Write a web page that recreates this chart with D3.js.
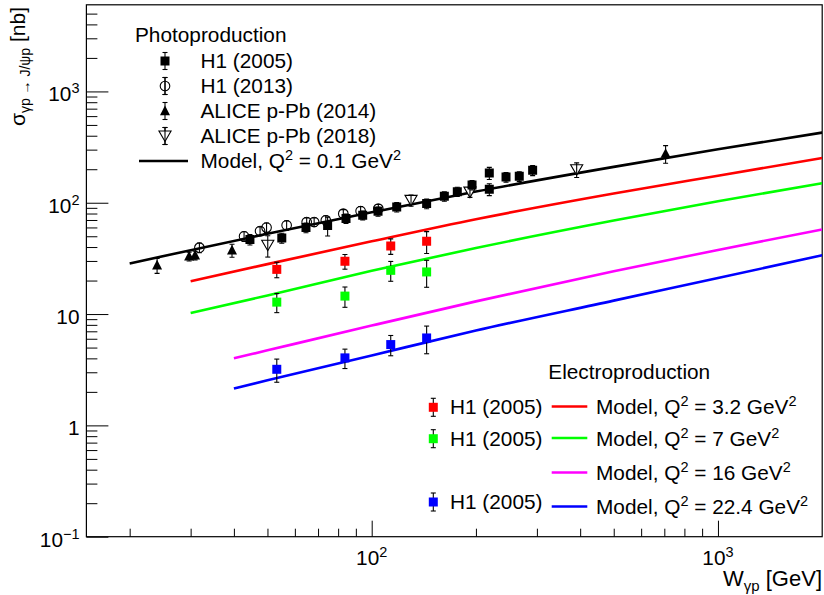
<!DOCTYPE html>
<html><head><meta charset="utf-8">
<script src="https://cdn.jsdelivr.net/npm/d3@7"></script>
<style>
html,body{margin:0;padding:0;background:#fff;}
svg{display:block;font-family:"Liberation Sans",Arial,Helvetica,sans-serif;}
</style></head><body>
<svg id="chart" width="824" height="595"></svg>
<script>
// ---------- axis ticks ----------
const xMajor = [100, 1000];
const xMajorLabels = [["10", "2"], ["10", "3"]];
const yMajor = [0.1, 1, 10, 100, 1000];
const yMajorLabels = [["10", "\u22121"], ["1", ""], ["10", ""], ["10", "2"], ["10", "3"]];

// ---------- photoproduction data ----------
const h1p05W   = [44.5, 55.0, 64.6, 74.6, 84.3, 94.2, 104.3, 118.1, 144.1, 162.1, 176.7, 194.9, 218.6, 218.6, 244.3, 266.8, 291.6];
const h1p05Sig = [46.7, 48.2, 59.8, 62.3, 72.0, 77.1, 83.7, 91.5, 98.2, 114.1, 125.8, 144.1, 184.7, 131.9, 170.1, 172.6, 195.4];
const h1p05Err = [5, 5, 6, 12, 7, 7, 8, 9, 10, 11, 12, 14, 23, 16, 17, 17, 20];

const h1p13W   = [31.8, 42.8, 47.6, 49.7, 56.8, 64.9, 68.2, 73.7, 82.8, 92.9, 104.5];
const h1p13Sig = [39.5, 49.9, 55.7, 59.8, 62.7, 67.1, 67.1, 69.5, 79.8, 84.2, 88.5];
const h1p13Err = [4, 5, 5, 6, 6, 6, 6, 7, 7, 8, 8];

const alice14W   = [24.0, 29.7, 30.9, 39.5, 706];
const alice14Sig = [27.4, 33.0, 33.7, 37.4, 276];
const alice14Err = [4.2, 3, 3, 5, 50];

const alice18W   = [50.1, 129.9, 192.2, 390.8];
const alice18Sig = [41.5, 105.1, 124.7, 198.3];
const alice18Err = [9, 12, 13, 30];

// ---------- electroproduction data (H1 2005) ----------
const h1eW = [53.2, 83.7, 113.5, 144.1];
const h1eSig32 = [25.2, 29.8, 40.9, 45.0];
const h1eErr32 = [4, 4.5, 6.5, 10];
const h1eSig7 = [12.8, 14.5, 24.7, 23.9];
const h1eErr7 = [2.5, 3, 5, 6.5];
const h1eSig224 = [3.19, 4.04, 5.32, 6.10];
const h1eErr224 = [0.75, 0.8, 1.1, 1.7];

// ---------- model curves ----------
const modelW01   = [20, 30, 50, 100, 200, 500, 1000, 2000];
const modelSig01 = [28.5, 37.5, 52.6, 82, 126, 210, 302, 427];
const modelW32   = [30, 50, 100, 200, 500, 1000, 2000];
const modelSig32 = [19.7, 28.1, 45, 71.1, 121, 175, 252];
const modelW7    = [30, 50, 100, 200, 500, 1000, 2000];
const modelSig7  = [10.2, 14.7, 24.5, 39.2, 69.2, 103, 150];
const modelW16   = [40, 50, 100, 200, 500, 1000, 2000];
const modelSig16 = [4.0, 4.72, 7.88, 13.0, 24.2, 37.7, 57.5];
const modelW224  = [40, 50, 100, 200, 500, 1000, 2000];
const modelSig224= [2.14, 2.54, 4.25, 7.11, 13.2, 21.1, 33.7];

// ---------- layout ----------
const L = 86.4, R = 822.2, T = 4.8, B = 536.7;
const FONT = 20.8, SUP = 14.5;

const svg = d3.select("#chart");
const x = d3.scaleLog().domain([15, 2000]).range([L, R]);
const y = d3.scaleLog().domain([0.1, 6000]).range([B, T]);

// minor tick positions: 2..9 times each decade inside the domain
function minors(scale) {
  const [a, b] = scale.domain();
  const out = [];
  for (let e = Math.floor(Math.log10(a)); e <= Math.ceil(Math.log10(b)); e++) {
    for (let k = 2; k <= 9; k++) {
      const v = k * Math.pow(10, e);
      if (v > a && v < b) out.push(v);
    }
  }
  return out;
}

const axes = svg.append("g");
// x axis ticks (inside the frame)
axes.append("g").attr("transform", `translate(0,${B})`)
  .call(d3.axisBottom(x).tickValues(minors(x)).tickSize(-8).tickFormat(() => ""))
  .call(g => g.select(".domain").remove());
axes.append("g").attr("transform", `translate(0,${B})`)
  .call(d3.axisBottom(x).tickValues(xMajor).tickSize(-16).tickFormat(() => ""))
  .call(g => g.select(".domain").remove());
// y axis ticks
axes.append("g").attr("transform", `translate(${L},0)`)
  .call(d3.axisLeft(y).tickValues(minors(y)).tickSize(-11).tickFormat(() => ""))
  .call(g => g.select(".domain").remove());
axes.append("g").attr("transform", `translate(${L},0)`)
  .call(d3.axisLeft(y).tickValues(yMajor).tickSize(-22).tickFormat(() => ""))
  .call(g => g.select(".domain").remove());
axes.selectAll(".tick line").attr("stroke", "#000").attr("stroke-width", 1);

// frame
svg.append("rect").attr("x", L).attr("y", T).attr("width", R - L).attr("height", B - T)
  .attr("fill", "none").attr("stroke", "#000").attr("stroke-width", 1.2);

// tick labels with superscript exponents
function powLabel(g, base, exp) {
  g.append("tspan").text(base);
  if (exp) g.append("tspan").attr("font-size", SUP).attr("dy", -8).text(exp);
}
xMajor.forEach((v, i) => {
  const t = svg.append("text").attr("x", x(v)).attr("y", B + 28)
    .attr("text-anchor", "middle").attr("font-size", FONT);
  powLabel(t, xMajorLabels[i][0], xMajorLabels[i][1]);
});
yMajor.forEach((v, i) => {
  const t = svg.append("text").attr("x", 79.5).attr("y", y(v) + 10)
    .attr("text-anchor", "end").attr("font-size", FONT);
  powLabel(t, yMajorLabels[i][0], yMajorLabels[i][1]);
});

// axis titles
const xt = svg.append("text").attr("x", 822).attr("y", 586).attr("text-anchor", "end").attr("font-size", 22);
xt.append("tspan").text("W");
xt.append("tspan").attr("font-size", 15).attr("dy", 5).text("\u03b3p");
xt.append("tspan").attr("dy", -5).text(" [GeV]");

const yt = svg.append("text").attr("transform", "translate(25,7) rotate(-90)")
  .attr("text-anchor", "end").attr("font-size", 21);
yt.append("tspan").text("\u03c3");
yt.append("tspan").attr("font-size", 14).attr("dy", 5).text("\u03b3p \u2192 J/\u03c8p");
yt.append("tspan").attr("dy", -5).text(" [nb]");

// ---------- plot contents ----------
svg.append("clipPath").attr("id", "frameClip").append("rect")
  .attr("x", L).attr("y", T).attr("width", R - L).attr("height", B - T);
const plot = svg.append("g").attr("clip-path", "url(#frameClip)");

const line = d3.line().x(d => x(d[0])).y(d => y(d[1])).curve(d3.curveMonotoneX);
const curves = [
  [modelW01, modelSig01, "#000000"],
  [modelW32, modelSig32, "#ff0000"],
  [modelW7, modelSig7, "#00ff00"],
  [modelW16, modelSig16, "#ff00ff"],
  [modelW224, modelSig224, "#0000ff"]
];
curves.forEach(([ws, ss, c]) => {
  plot.append("path").datum(ws.map((w, i) => [w, ss[i]]))
    .attr("d", line).attr("fill", "none").attr("stroke", c).attr("stroke-width", 2.6);
});

// marker shapes
const shapes = {
  square: s => `M${-s/2},${-s/2}h${s}v${s}h${-s}Z`,
  triUp: s => `M${-s/2},${s*0.42}L${s/2},${s*0.42}L0,${-s*0.55}Z`,
  triDown: s => `M${-s*0.55},${-s*0.45}L${s*0.55},${-s*0.45}L0,${s*0.5}Z`
};

function errBar(g, cx, yTop, yBot) {
  g.append("line").attr("x1", cx).attr("x2", cx).attr("y1", yTop).attr("y2", yBot)
    .attr("stroke", "#000").attr("stroke-width", 1.1);
  [yTop, yBot].forEach(yy => g.append("line").attr("x1", cx - 2.5).attr("x2", cx + 2.5)
    .attr("y1", yy).attr("y2", yy).attr("stroke", "#000").attr("stroke-width", 1.1));
}

function marker(g, cx, cy, kind, color) {
  if (kind === "circle") {
    g.append("circle").attr("cx", cx).attr("cy", cy).attr("r", 4.8)
      .attr("fill", "none").attr("stroke", "#000").attr("stroke-width", 1.1);
  } else if (kind === "triDown") {
    g.append("path").attr("d", shapes.triDown(11)).attr("transform", `translate(${cx},${cy})`)
      .attr("fill", "#fff").attr("stroke", "#000").attr("stroke-width", 1.1);
  } else {
    g.append("path").attr("d", shapes[kind](kind === "square" ? 9 : 10))
      .attr("transform", `translate(${cx},${cy})`).attr("fill", color);
  }
}

function series(ws, ss, es, kind, color) {
  const g = plot.append("g");
  ws.forEach((w, i) => {
    const cx = x(w), cy = y(ss[i]);
    const open = (kind === "circle" || kind === "triDown");
    if (!open) errBar(g, cx, y(ss[i] + es[i]), y(ss[i] - es[i]));
    marker(g, cx, cy, kind, color);
    if (open) errBar(g, cx, y(ss[i] + es[i]), y(ss[i] - es[i]));
  });
}

series(h1p13W, h1p13Sig, h1p13Err, "circle", "#000");
series(alice18W, alice18Sig, alice18Err, "triDown", "#000");
series(h1p05W, h1p05Sig, h1p05Err, "square", "#000");
series(alice14W, alice14Sig, alice14Err, "triUp", "#000");
series(h1eW, h1eSig32, h1eErr32, "square", "#ff0000");
series(h1eW, h1eSig7, h1eErr7, "square", "#00ff00");
series(h1eW, h1eSig224, h1eErr224, "square", "#0000ff");

// ---------- legends ----------
function qText(g, tx, ty, qval) {
  const t = g.append("text").attr("x", tx).attr("y", ty).attr("font-size", FONT);
  t.append("tspan").text("Model, Q");
  t.append("tspan").attr("font-size", SUP).attr("dy", -8).text("2");
  t.append("tspan").attr("dy", 8).text(" = " + qval + " GeV");
  t.append("tspan").attr("font-size", SUP).attr("dy", -8).text("2");
}

const leg = svg.append("g");
leg.append("text").attr("x", 135).attr("y", 41.7).attr("font-size", FONT).text("Photoproduction");
const photoRows = [
  ["square", "H1 (2005)", 61],
  ["circle", "H1 (2013)", 86],
  ["triUp", "ALICE p-Pb (2014)", 111],
  ["triDown", "ALICE p-Pb (2018)", 136]
];
photoRows.forEach(([kind, label, ry]) => {
  errBar(leg, 165, ry - 8.5, ry + 8.5);
  marker(leg, 165, ry, kind, "#000");
  if (kind === "circle" || kind === "triDown") errBar(leg, 165, ry - 8.5, ry + 8.5);
  leg.append("text").attr("x", 200.5).attr("y", ry + 7).attr("font-size", FONT).text(label);
});
leg.append("line").attr("x1", 139).attr("x2", 188).attr("y1", 161).attr("y2", 161)
  .attr("stroke", "#000").attr("stroke-width", 2.6);
qText(leg, 200.5, 168, "0.1");

leg.append("text").attr("x", 548.3).attr("y", 379.3).attr("font-size", FONT).text("Electroproduction");
const eDataRows = [["#ff0000", 407.3], ["#00ff00", 438.7], ["#0000ff", 502]];
eDataRows.forEach(([c, ry]) => {
  errBar(leg, 433.3, ry - 9, ry + 9);
  marker(leg, 433.3, ry, "square", c);
  leg.append("text").attr("x", 450).attr("y", ry + 7).attr("font-size", FONT).text("H1 (2005)");
});
const eModelRows = [["#ff0000", "3.2", 407], ["#00ff00", "7", 438.5], ["#ff00ff", "16", 473], ["#0000ff", "22.4", 507]];
eModelRows.forEach(([c, q, ry]) => {
  leg.append("line").attr("x1", 551.7).attr("x2", 587.3).attr("y1", ry - 0.5).attr("y2", ry - 0.5)
    .attr("stroke", c).attr("stroke-width", 2.6);
  qText(leg, 596, ry + 7, q);
});
</script>
</body></html>
